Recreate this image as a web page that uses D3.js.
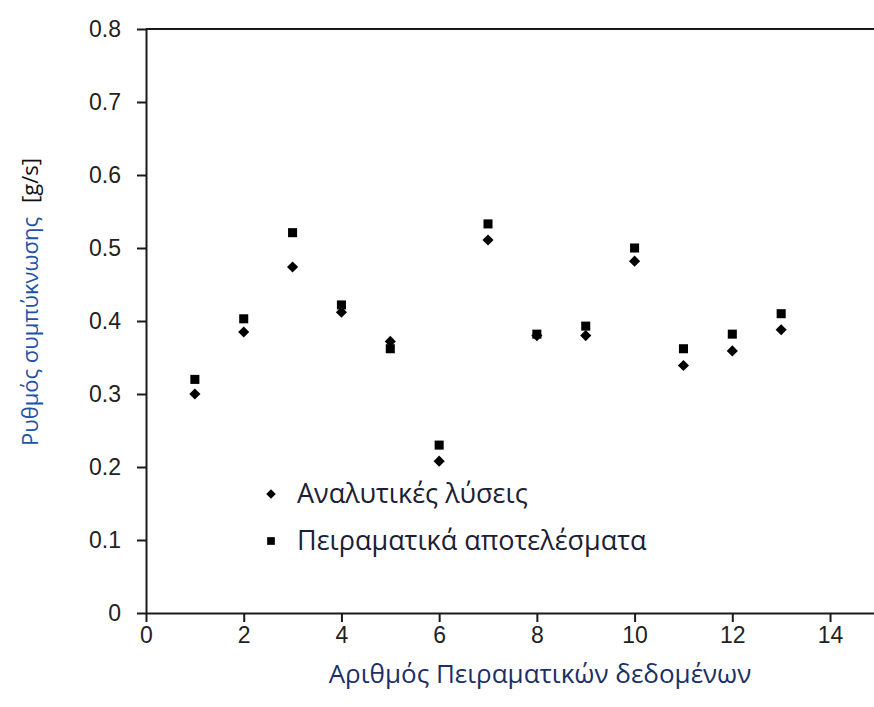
<!DOCTYPE html>
<html>
<head>
<meta charset="utf-8">
<script src="https://cdn.jsdelivr.net/npm/d3@7"></script>
<style>
  body { margin: 0; background: #fff; }
  svg { display: block; }
</style>
</head>
<body>
<script>
// experiment number on x, condensation rate [g/s] on y
const runs = [1, 2, 3, 4, 5, 6, 7, 8, 9, 10, 11, 12, 13];
const analytical = [0.30, 0.385, 0.474, 0.412, 0.372, 0.208, 0.511, 0.38, 0.38, 0.482, 0.339, 0.359, 0.388];
const experimental = [0.32, 0.403, 0.521, 0.422, 0.362, 0.23, 0.533, 0.382, 0.393, 0.50, 0.362, 0.382, 0.41];
const xTicks = [0, 2, 4, 6, 8, 10, 12, 14];
const yTicks = [0, 0.1, 0.2, 0.3, 0.4, 0.5, 0.6, 0.7, 0.8];
const legendLabels = ["Αναλυτικές λύσεις", "Πειραματικά αποτελέσματα"];

const WIDTH = 874;
const HEIGHT = 707;
const MARGINS = { top: 29, right: 0, bottom: 94, left: 146 };

const svg = d3.select("body")
  .append("svg")
  .attr("width", WIDTH)
  .attr("height", HEIGHT);

// ---- scales -------------------------
const xScale = d3.scaleLinear()
  .domain([0, 14.9])
  .range([MARGINS.left, WIDTH - MARGINS.right]);

const yScale = d3.scaleLinear()
  .domain([0, 0.8])
  .range([HEIGHT - MARGINS.bottom, MARGINS.top]);

const axisFont = "'Liberation Sans', Arial, sans-serif";
const greekFont = "'Open Sans', 'Noto Sans', sans-serif";

// ---- axes -------------------------
const xAxis = svg.append("g")
  .attr("transform", `translate(0,${yScale(0)})`)
  .call(d3.axisBottom(xScale).tickValues(xTicks).tickSize(9).tickSizeOuter(0).tickPadding(5));

const yAxis = svg.append("g")
  .attr("transform", `translate(${xScale(0)},0)`)
  .call(d3.axisLeft(yScale).tickValues(yTicks).tickSize(9).tickSizeOuter(0).tickPadding(16)
    .tickFormat(d => d === 0 ? "0" : d3.format(".1f")(d)));

[xAxis, yAxis].forEach(g => {
  g.select(".domain").attr("stroke", "#1a1a1a").attr("stroke-width", 2);
  g.selectAll(".tick line").attr("stroke", "#1a1a1a").attr("stroke-width", 2);
  g.selectAll(".tick text")
    .attr("fill", "#222")
    .style("font-family", axisFont)
    .style("font-size", "23px");
});

// top frame line
svg.append("line")
  .attr("x1", xScale(0))
  .attr("x2", xScale.range()[1])
  .attr("y1", yScale(0.8))
  .attr("y2", yScale(0.8))
  .attr("stroke", "#1a1a1a")
  .attr("stroke-width", 2);

// ---- markers -------------------------
const diamond = d3.symbol().type(d3.symbolSquare).size(62);
const square = d3.symbol().type(d3.symbolSquare).size(82);

svg.append("g")
  .selectAll("path")
  .data(runs)
  .join("path")
  .attr("transform", (d, i) => `translate(${xScale(d)},${yScale(analytical[i])}) rotate(45)`)
  .attr("d", diamond)
  .attr("fill", "#000");

svg.append("g")
  .selectAll("path")
  .data(runs)
  .join("path")
  .attr("transform", (d, i) => `translate(${xScale(d)},${yScale(experimental[i])})`)
  .attr("d", square)
  .attr("fill", "#000");

// ---- legend -------------------------
const legend = svg.append("g").attr("transform", "translate(271,494)");
const legendShapes = [diamond, square];
legendLabels.forEach((label, i) => {
  const row = legend.append("g").attr("transform", `translate(0,${i * 47})`);
  row.append("path")
    .attr("d", legendShapes[i])
    .attr("transform", i === 0 ? "rotate(45) scale(0.85)" : "scale(0.85)")
    .attr("fill", "#000");
  row.append("text")
    .attr("x", 26)
    .attr("dy", "0.35em")
    .attr("fill", "#1b2035")
    .style("font-family", greekFont)
    .style("font-size", "27px")
    .text(label);
});

// ---- axis titles -------------------------
svg.append("text")
  .attr("x", 540)
  .attr("y", 683)
  .attr("text-anchor", "middle")
  .attr("fill", "#1c2f66")
  .style("font-family", greekFont)
  .style("font-size", "26px")
  .text("Αριθμός Πειραματικών δεδομένων");

const yTitle = svg.append("text")
  .attr("transform", "translate(38,302) rotate(-90)")
  .attr("text-anchor", "middle")
  .style("font-family", greekFont)
  .style("font-size", "22px");
yTitle.append("tspan").attr("fill", "#2052a8").text("Ρυθμός συμπύκνωσης");
yTitle.append("tspan").attr("fill", "#111").attr("dx", "14").text("[g/s]");
</script>
</body>
</html>
